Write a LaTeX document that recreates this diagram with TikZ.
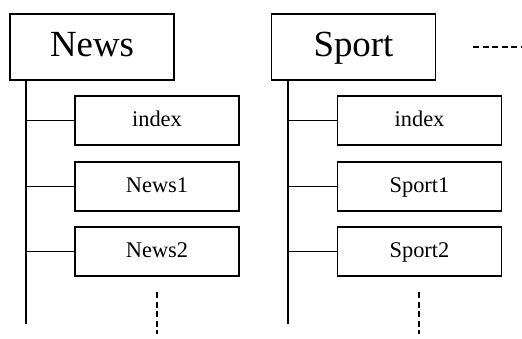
\documentclass[tikz,border=0pt]{standalone}
\usepackage{fontspec}
\setmainfont{Liberation Serif}
\begin{document}
\begin{tikzpicture}[x=1bp,y=-1bp,
  bigbox/.style={draw,line width=1.6bp,minimum width=164bp,minimum height=66bp,inner sep=0pt,text height=19.5bp,text depth=0pt,font=\fontsize{37}{37}\selectfont},
  leafbox/.style={draw,line width=1.5bp,minimum width=164bp,minimum height=49bp,inner sep=0pt,text height=12bp,text depth=0pt,font=\fontsize{22.5}{23}\selectfont},
  trunk/.style={line width=1.5bp},
  dots/.style={line width=2.2bp,dash pattern=on 6bp off 3.5bp}]
\useasboundingbox (0,0) rectangle (522,338);
% News column
\node[bigbox] (news) at (92,47) {News};
\node[leafbox] (nidx) at (157,120.5) {index};
\node[leafbox] (n1) at (157,186.5) {News1};
\node[leafbox] (n2) at (157,251.5) {News2};
\coordinate (ntop) at (26,80);
\coordinate (nbot) at (26,324);
\draw[trunk] (ntop) -- (nbot);
\draw[trunk] (nidx.west) -- (ntop |- nidx.west);
\draw[trunk] (n1.west) -- (ntop |- n1.west);
\draw[trunk] (n2.west) -- (ntop |- n2.west);
\coordinate (nd1) at (157,292);
\coordinate (nd2) at (157,334);
\draw[dots] (nd1) -- (nd2);
% Sport column
\node[bigbox] (sport) at (353.5,47) {Sport};
\node[leafbox] (sidx) at (419.5,120.5) {index};
\node[leafbox] (s1) at (419.5,186.5) {Sport1};
\node[leafbox] (s2) at (419.5,251.5) {Sport2};
\coordinate (stop) at (288,80);
\coordinate (sbot) at (288,324);
\draw[trunk] (stop) -- (sbot);
\draw[trunk] (sidx.west) -- (stop |- sidx.west);
\draw[trunk] (s1.west) -- (stop |- s1.west);
\draw[trunk] (s2.west) -- (stop |- s2.west);
\coordinate (sd1) at (419,292);
\coordinate (sd2) at (419,334);
\draw[dots] (sd1) -- (sd2);
% continuation
\coordinate (h1) at (473,47);
\coordinate (h2) at (523,47);
\draw[dots] (h1) -- (h2);
\end{tikzpicture}
\end{document}
